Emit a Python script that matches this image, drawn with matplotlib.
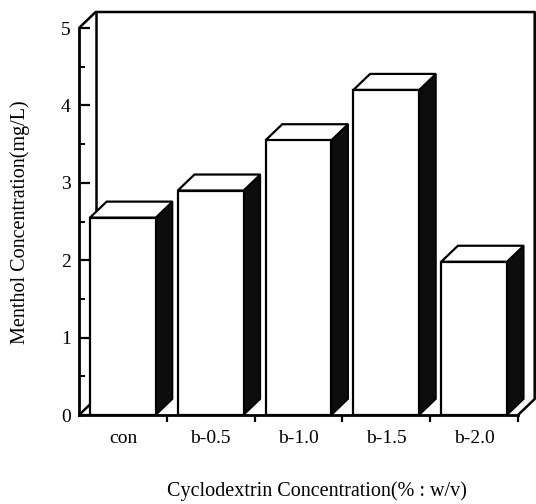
import matplotlib
matplotlib.use("Agg")
import matplotlib.pyplot as plt
from matplotlib.patches import Polygon, Rectangle

categories = ["con", "b-0.5", "b-1.0", "b-1.5", "b-2.0"]
values = [2.55, 2.9, 3.55, 4.2, 1.98]
yticks = [0, 1, 2, 3, 4, 5]
ylabel = "Menthol Concentration(mg/L)"
xlabel = "Cyclodextrin Concentration(% : w/v)"

plt.rcParams['font.family'] = ['Liberation Serif', 'DejaVu Serif']

W, H = 536, 504
fig = plt.figure(figsize=(W / 100, H / 100), dpi=100)
left, right, bottom, top = 79, 534, 415, 12
ax = fig.add_axes([left / W, (H - bottom) / H, (right - left) / W, (bottom - top) / H])

n = len(categories)
ymax = 5
dx, dy = 0.19, 0.207
bw = 0.75
ax.set_xlim(0, n + 0.182)
ax.set_ylim(0, ymax + dy)

lw_axis = 2.0
# back wall / frame
frame_kw = dict(color="black", lw=1.8, zorder=1, solid_capstyle="butt", clip_on=False)
ax.plot([0, dx, n + dx, n + dx, n], [ymax, ymax + dy, ymax + dy, dy, 0], **frame_kw)
ax.plot([dx, dx], [dy, ymax + dy], **frame_kw)
ax.plot([0, dx], [0, dy], **frame_kw)

# bars
for i, v in enumerate(values):
    x0 = i + 0.5 - bw / 2
    x1 = i + 0.5 + bw / 2
    side = Polygon([(x1, 0), (x1 + dx, dy), (x1 + dx, v + dy), (x1, v)], closed=True,
                   facecolor="#0d0d0d", edgecolor="black", lw=1.2, zorder=3)
    topf = Polygon([(x0, v), (x0 + dx, v + dy), (x1 + dx, v + dy), (x1, v)], closed=True,
                   facecolor="white", edgecolor="black", lw=1.6, zorder=3, joinstyle="miter")
    front = Rectangle((x0, 0), bw, v, facecolor="white", edgecolor="black", lw=1.6, zorder=4)
    ax.add_patch(side)
    ax.add_patch(topf)
    ax.add_patch(front)

# spines
for s in ["top", "right"]:
    ax.spines[s].set_visible(False)
ax.spines["left"].set_bounds(0, ymax)
ax.spines["bottom"].set_bounds(0, n)
ax.spines["left"].set_linewidth(lw_axis)
ax.spines["bottom"].set_linewidth(lw_axis)
ax.spines["left"].set_zorder(6)
ax.spines["bottom"].set_zorder(6)

ax.set_yticks(yticks)
ax.set_yticklabels([str(t) for t in yticks], fontsize=14)
ax.set_yticks([t + 0.5 for t in yticks[:-1]], minor=True)
ax.tick_params(axis="y", which="major", direction="in", length=8, width=1.6, pad=6)
ax.tick_params(axis="y", which="minor", direction="in", length=4, width=1.4)

ax.set_xticks(range(1, n + 1))
ax.set_xticklabels([""] * n)
ax.set_xticks([i + 0.5 for i in range(n)], minor=True)
ax.set_xticklabels(categories, minor=True, fontsize=14)
ax.tick_params(axis="x", which="major", direction="out", length=5, width=1.6)
ax.tick_params(axis="x", which="minor", length=0, pad=11)

fig.text(20 / W, 1 - 222 / H, ylabel, rotation=90, ha="center", va="center", fontsize=14.5)
fig.text(317 / W, 1 - 491 / H, xlabel, ha="center", va="center", fontsize=14.5)

fig.savefig("out.png", dpi=100)
